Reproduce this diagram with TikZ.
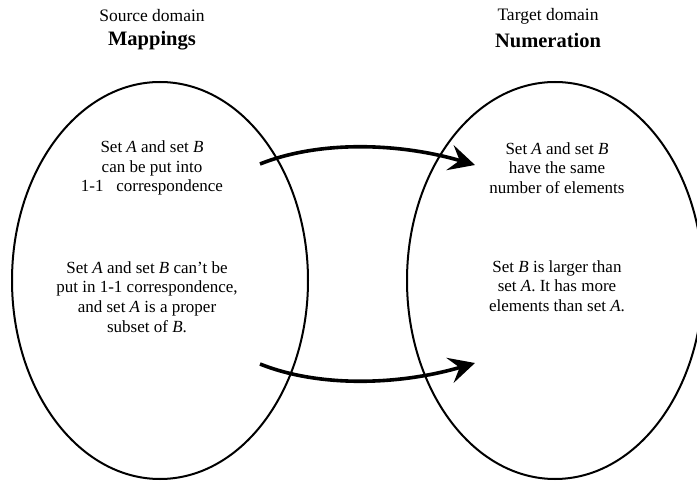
\documentclass[tikz,border=0pt]{standalone}
\usepackage{fontspec}
\setmainfont{Liberation Serif}
\usetikzlibrary{shapes.geometric,arrows.meta}
\begin{document}
\begin{tikzpicture}[x=1pt,y=-1pt,
  domainoval/.style={ellipse,draw,line width=2pt,minimum width=296pt,minimum height=397pt,inner sep=0pt},
  body/.style={align=center,font=\fontsize{17}{19.6}\selectfont,inner sep=0pt},
  head/.style={align=center,font=\fontsize{17.5}{20}\selectfont,inner sep=0pt},
  titletext/.style={align=center,font=\fontsize{20.5}{22}\selectfont\bfseries,inner sep=0pt},
  maparrow/.style={line width=3.6pt,-{Stealth[length=26pt 0 0,width=26pt 0 0,inset=10pt 0 0]}}]
\useasboundingbox (0,0) rectangle (697,481);
\node[domainoval] (src) at (160,280.5) {};
\node[domainoval] (tgt) at (555,280.5) {};
\node[head] (srch) at (152,16) {Source domain};
\node[titletext] (srct) at (152,41) {Mappings};
\node[head] (tgth) at (548,16) {Target domain};
\node[titletext] (tgtt) at (548,41) {Numeration};
\node[body] (s1) at (152,168) {Set \textit{A} and set \textit{B}\\can be put into\\1-1\ \ \ correspondence};
\node[body] (s2) at (147,297) {Set \textit{A} and set \textit{B} can't be\\put in 1-1 correspondence,\\and set \textit{A} is a proper\\subset of \textit{B}.};
\node[body] (t1) at (557,168) {Set \textit{A} and set \textit{B}\\have the same\\number of elements};
\node[body] (t2) at (557,286) {Set \textit{B} is larger than\\set \textit{A}. It has more\\elements than set \textit{A}.};
\coordinate (a1s) at (260,164);
\coordinate (a1e) at (475,165);
\coordinate (a2s) at (260,364);
\coordinate (a2e) at (475,363);
\draw[maparrow] (a1s) .. controls (320,140) and (400,143) .. (a1e);
\draw[maparrow] (a2s) .. controls (320,388) and (400,385) .. (a2e);
\end{tikzpicture}
\end{document}
